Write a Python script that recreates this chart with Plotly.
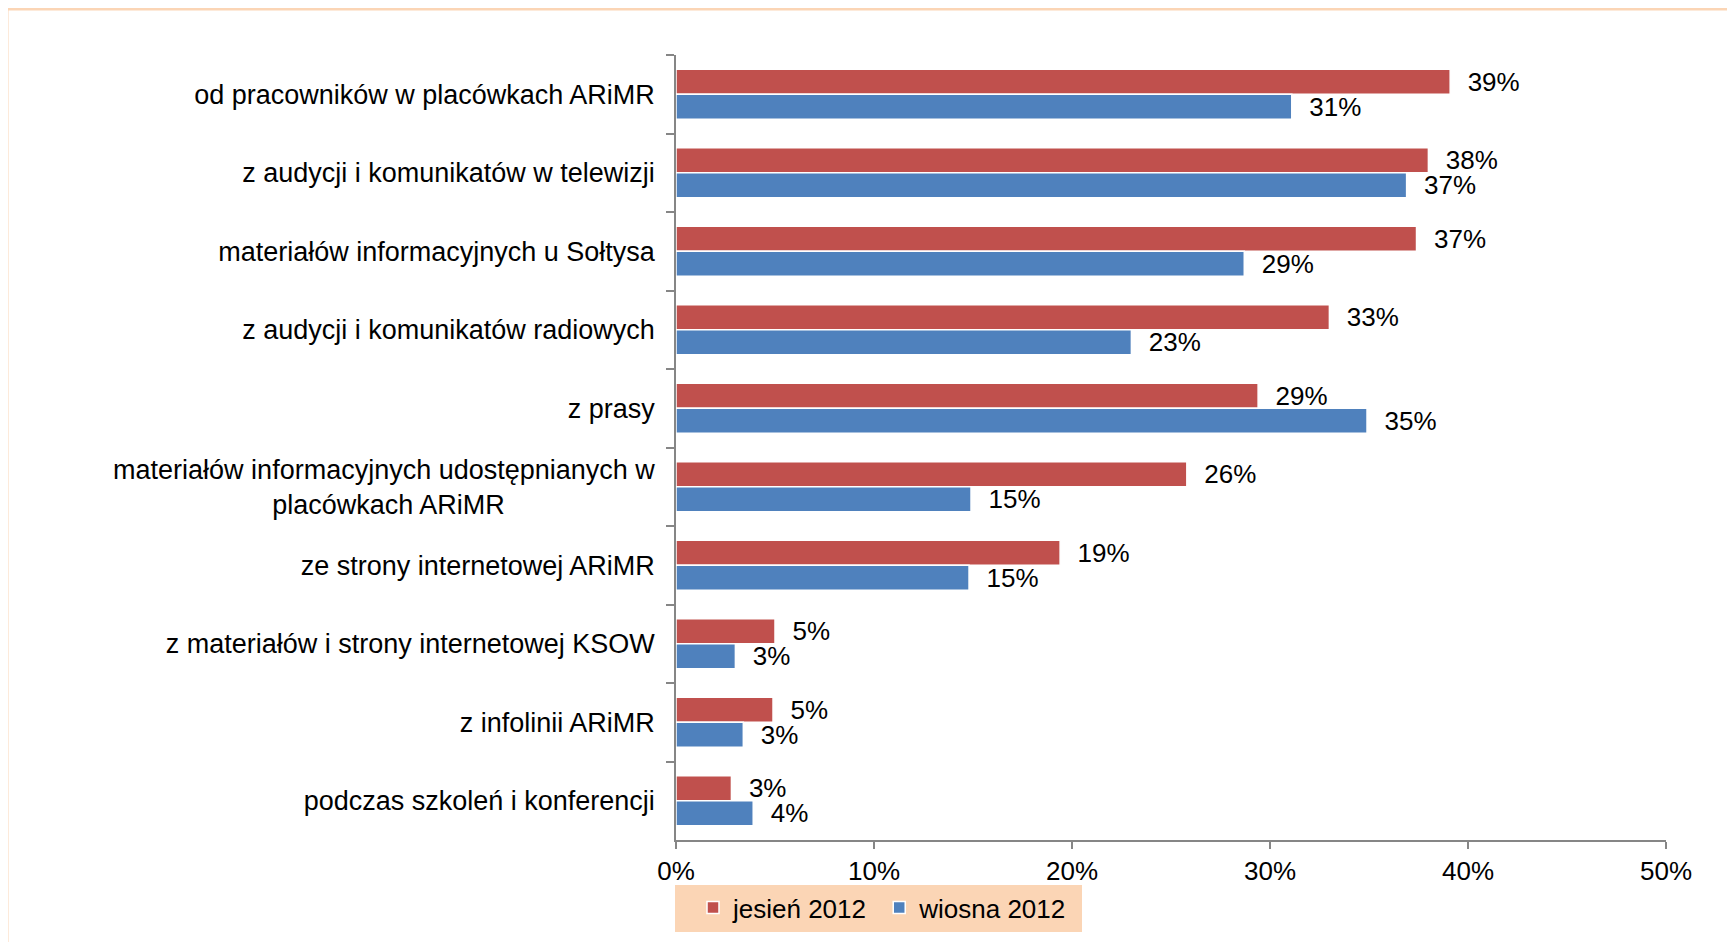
import plotly.graph_objects as go

categories = [
    "od pracowników w placówkach ARiMR",
    "z audycji i komunikatów w telewizji",
    "materiałów informacyjnych u Sołtysa",
    "z audycji i komunikatów radiowych",
    "z prasy",
    "materiałów informacyjnych udostępnianych w<br>placówkach ARiMR" + "\u00a0" * 20,
    "ze strony internetowej ARiMR",
    "z materiałów i strony internetowej KSOW",
    "z infolinii ARiMR",
    "podczas szkoleń i konferencji",
]
jesien_2012 = [0.391, 0.380, 0.374, 0.330, 0.294, 0.258, 0.194, 0.050, 0.049, 0.028]
wiosna_2012 = [0.311, 0.369, 0.287, 0.230, 0.349, 0.149, 0.148, 0.030, 0.034, 0.039]
x_ticks = [0, 0.1, 0.2, 0.3, 0.4, 0.5]

FONT = "Liberation Sans, Arial, sans-serif"
RED = "#C0504D"
BLUE = "#4F81BD"
PEACH = "#FBD5B5"

# plot area in page pixels (page body has an 8px margin)
PL, PR, PT, PB = 676, 1666, 55, 840
PW, PH = PR - PL, PB - PT

def px(x):
    return (x - PL) / PW

def py(y):
    return (PB - y) / PH

fig = go.Figure()
for name, vals, col in [("jesień 2012\u00a0", jesien_2012, RED), ("wiosna 2012", wiosna_2012, BLUE)]:
    fig.add_trace(go.Bar(
        y=categories, x=vals, name=name, orientation="h",
        marker=dict(color=col, line=dict(color="white", width=1.5)),
        texttemplate="\u00a0\u00a0%{x:.0%}", textposition="outside",
        constraintext="none", cliponaxis=False,
        textfont=dict(family=FONT, size=26, color="black"),
    ))

fig.update_layout(
    width=1735, height=942,
    margin=dict(l=PL - 8, r=1735 + 8 - PR, t=PT - 8, b=942 + 8 - PB),
    paper_bgcolor="white", plot_bgcolor="white",
    barmode="group", bargap=0.36, bargroupgap=0,
    font=dict(family=FONT, size=26, color="black"),
    showlegend=True,
    legend=dict(
        orientation="h", x=px(693), xanchor="left", y=py(884), yanchor="top",
        bgcolor="rgba(0,0,0,0)", font=dict(family=FONT, size=26, color="black"),
        traceorder="normal", itemwidth=30,
    ),
    xaxis=dict(
        range=[0, 0.5], tickvals=x_ticks, tickformat=".0%",
        showgrid=False, zeroline=False,
        showline=True, linecolor="#868686", linewidth=1.5,
        ticks="outside", ticklen=7, tickcolor="#868686", tickwidth=1.5,
        tickfont=dict(family=FONT, size=26, color="black"),
    ),
    yaxis=dict(
        autorange="reversed", showgrid=False, zeroline=False,
        showline=True, linecolor="#868686", linewidth=1.5,
        ticks="outside", ticklen=8, tickcolor="#868686", tickwidth=1.5,
        tickson="boundaries", ticklabelstandoff=14,
        tickfont=dict(family=FONT, size=27, color="black"),
    ),
    shapes=[
        dict(
            type="rect", xref="paper", yref="paper",
            x0=px(7), x1=px(1745), y0=py(955), y1=py(9),
            line=dict(color=PEACH, width=3), fillcolor="rgba(0,0,0,0)", layer="below",
        ),
        dict(
            type="rect", xref="paper", yref="paper",
            x0=px(675), x1=px(1082), y0=py(932), y1=py(885),
            line=dict(width=0), fillcolor=PEACH, layer="below",
        ),
    ],
)

fig.write_html("out.html")
